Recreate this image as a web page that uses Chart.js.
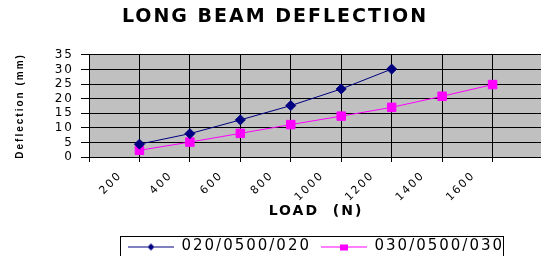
<!DOCTYPE html>
<html>
<head>
<meta charset="utf-8">
<title>Long beam deflection</title>
<script src="https://cdn.jsdelivr.net/npm/chart.js@4.4.1/dist/chart.umd.min.js"></script>
<style>
  html, body { margin: 0; padding: 0; background: #fff; overflow: hidden; }
  #wrap { width: 541px; height: 256px; overflow: hidden; }
  canvas { display: block; }
</style>
</head>
<body>
<div id="wrap"><canvas id="grafica" width="550" height="264"></canvas></div>
<script>
var loads = [200, 400, 600, 800, 1000, 1200, 1400, 1600];
var beam020 = [4.4, 8.0, 12.7, 17.6, 23.3, 30.1];
var beam030 = [2.3, 5.1, 8.1, 11.1, 14.0, 17.0, 20.8, 24.8];
var seriesNames = ['020/0500/020', '030/0500/030'];
var yTicks = [0, 5, 10, 15, 20, 25, 30, 35];
var chartTitle = 'LONG BEAM DEFLECTION';
var xTitle = 'LOAD  (N)';
var yTitle = 'Deflection (mm)';

var chart;

function puntos(valores)
{
  var out = [];
  for (var i = 0; i < valores.length; i++) out.push({ x: loads[i], y: valores[i] });
  return out;
}

// little line + marker picture for the legend, like the excel one
function icono(color, forma)
{
  var c = document.createElement('canvas');
  c.width = 46; c.height = 12;
  var g = c.getContext('2d');
  g.strokeStyle = color;
  g.fillStyle = color;
  g.lineWidth = 1;
  g.beginPath(); g.moveTo(0, 6.5); g.lineTo(46, 6.5); g.stroke();
  if (forma == 'diamond') {
    g.beginPath(); g.moveTo(23, 3); g.lineTo(26.5, 6.5); g.lineTo(23, 10); g.lineTo(19.5, 6.5); g.closePath(); g.fill();
  } else {
    g.fillRect(19, 4, 8, 6);
  }
  return c;
}
var iconos = [icono('#000080', 'diamond'), icono('#FF00FF', 'square')];

var fondo = {
  id: 'fondo',
  beforeUpdate: function(chart) { chart.ctx.letterSpacing = '2px'; },
  beforeDraw: function(chart) {
    var a = chart.chartArea, ctx = chart.ctx;
    ctx.save();
    ctx.fillStyle = '#C0C0C0';
    ctx.fillRect(a.left, a.top, a.right - a.left, a.bottom - a.top);
    ctx.restore();
    ctx.letterSpacing = '2px';
  },
  afterDraw: function(chart) {
    // border round the legend
    var hb = chart.legend.legendHitBoxes, ctx = chart.ctx;
    if (!hb || !hb.length) return;
    var last = hb[hb.length - 1];
    var l = Math.round(hb[0].left - 8), r = Math.round(last.left + last.width - 1);
    var t = Math.round(hb[0].top - 3), b = Math.round(hb[0].top + hb[0].height + 8);
    ctx.save();
    ctx.strokeStyle = '#000';
    ctx.lineWidth = 1;
    ctx.strokeRect(l + 0.5, t + 0.5, r - l, b - t);
    ctx.restore();
  }
};

Chart.defaults.font.family = 'DejaVu Sans';
Chart.defaults.color = '#000';

chart = new Chart(document.getElementById('grafica'), {
  type: 'line',
  data: {
    datasets: [{
      label: seriesNames[0],
      data: puntos(beam020),
      borderColor: '#000080',
      backgroundColor: '#000080',
      borderWidth: 1,
      pointStyle: 'rectRot',
      pointRadius: 5,
      tension: 0
    }, {
      label: seriesNames[1],
      data: puntos(beam030),
      borderColor: '#FF00FF',
      backgroundColor: '#FF00FF',
      borderWidth: 1,
      pointStyle: 'rect',
      pointRadius: 6,
      tension: 0
    }]
  },
  options: {
    responsive: false,
    animation: false,
    devicePixelRatio: 1,
    layout: { padding: 0 },
    plugins: {
      title: {
        display: true,
        text: chartTitle,
        font: { size: 19, weight: 'bold' },
        padding: { top: 6, bottom: 26 }
      },
      legend: {
        position: 'bottom',
        fullSize: false,
        labels: {
          usePointStyle: true,
          pointStyleWidth: 46,
          padding: 10,
          font: { size: 15 },
          generateLabels: function(chart) {
            var items = Chart.defaults.plugins.legend.labels.generateLabels(chart);
            items.forEach(function(it, i) { it.pointStyle = iconos[i]; });
            return items;
          }
        }
      },
      tooltip: { enabled: false }
    },
    scales: {
      x: {
        type: 'linear',
        min: 0,
        max: 1800,
        grid: { color: '#000', tickLength: 5 },
        border: { color: '#000' },
        ticks: {
          stepSize: 200,
          autoSkip: false,
          minRotation: 45,
          maxRotation: 45,
          labelOffset: -19,
          padding: 7,
          font: { size: 11 },
          callback: function(v) { return loads.indexOf(v) >= 0 ? String(v) : ''; }
        },
        title: {
          display: true,
          text: xTitle,
          font: { size: 14, weight: 'bold' },
          padding: { top: 0, bottom: 9 }
        },
        afterFit: function(s) { s.height = 72; s.paddingLeft = 0; s.paddingRight = 0; }
      },
      y: {
        min: 0,
        max: 35,
        grid: { color: '#000', tickLength: 8 },
        border: { color: '#000' },
        afterBuildTicks: function(s) { s.ticks = yTicks.map(function(v) { return { value: v }; }); },
        ticks: { autoSkip: false, padding: 7, font: { size: 12 } },
        title: {
          display: true,
          text: yTitle,
          font: { family: 'Liberation Sans', size: 10, weight: 'bold' },
          padding: { top: 14, bottom: 0 }
        },
        afterFit: function(s) { s.width = 89; }
      }
    }
  },
  plugins: [fondo]
});
</script>
</body>
</html>
